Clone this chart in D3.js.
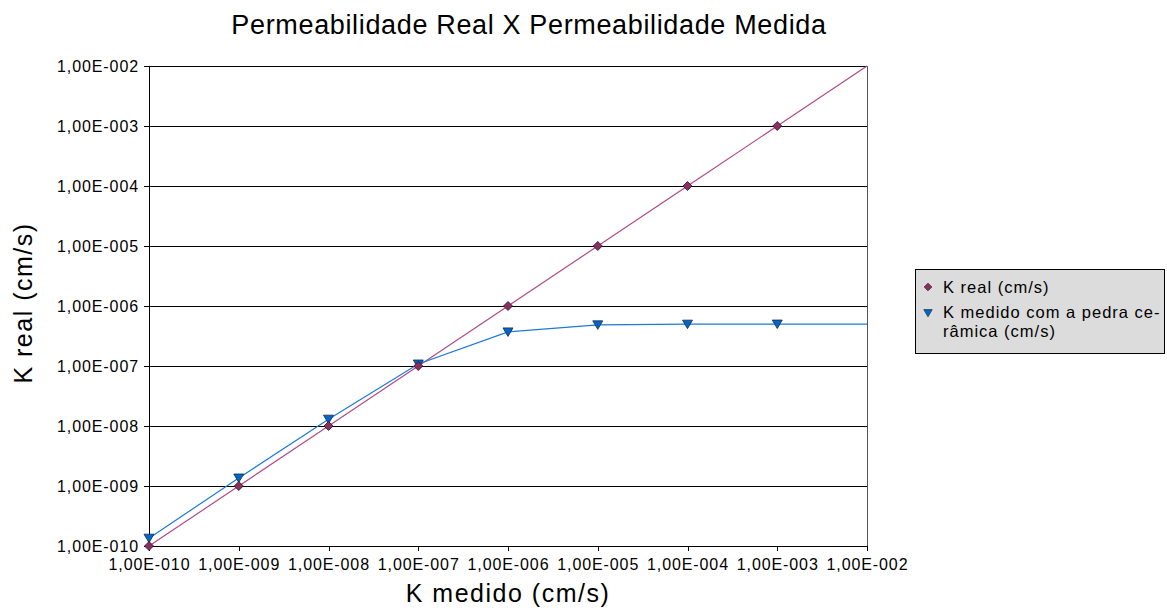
<!DOCTYPE html>
<html>
<head>
<meta charset="utf-8">
<script src="https://cdn.jsdelivr.net/npm/d3@7"></script>
<style>
  html, body { margin: 0; padding: 0; background: #fff; }
  svg { display: block; font-family: "Liberation Sans", Arial, sans-serif; }
</style>
</head>
<body>
<svg id="chart" width="1167" height="612"></svg>
<script>
// Measured permeability (x) for each test
const kMedidoX = [1e-10, 1e-9, 1e-8, 1e-7, 1e-6, 1e-5, 1e-4, 1e-3, 1e-2];
// Real permeability series
const kReal = [1e-10, 1e-9, 1e-8, 1e-7, 1e-6, 1e-5, 1e-4, 1e-3, 1e-2];
// Permeability measured with the ceramic stone
const kPedra = [1.35e-10, 1.36e-9, 1.3e-8, 1.08e-7, 3.7e-7, 4.85e-7, 4.98e-7, 5.0e-7, 5.0e-7];
// Number of points that carry a marker (last point closes the line only)
const markedPoints = 8;
const tickValues = [1e-10, 1e-9, 1e-8, 1e-7, 1e-6, 1e-5, 1e-4, 1e-3, 1e-2];

const FONT = "Liberation Sans, Arial, sans-serif";
const svg = d3.select("#chart");
const plot = { left: 149, right: 867, top: 66, bottom: 546 };

const x = d3.scaleLog().domain([1e-10, 1e-2]).range([plot.left, plot.right]);
const y = d3.scaleLog().domain([1e-10, 1e-2]).range([plot.bottom, plot.top]);

function sciFmt(v) {
  const e = Math.round(Math.log10(v));
  const m = v / Math.pow(10, e);
  const sign = e < 0 ? "-" : "+";
  return m.toFixed(2).replace(".", ",") + "E" + sign + String(Math.abs(e)).padStart(3, "0");
}

// Horizontal gridlines
svg.append("g")
  .selectAll("line")
  .data(tickValues)
  .join("line")
  .attr("x1", plot.left).attr("x2", plot.right)
  .attr("y1", d => y(d)).attr("y2", d => y(d))
  .attr("stroke", "#000").attr("stroke-width", 1)
  .attr("shape-rendering", "crispEdges");

// Right border
svg.append("line")
  .attr("x1", plot.right).attr("x2", plot.right)
  .attr("y1", plot.top).attr("y2", plot.bottom)
  .attr("stroke", "#555").attr("shape-rendering", "crispEdges");

// Axes
const xAxis = d3.axisBottom(x).tickValues(tickValues).tickFormat(sciFmt).tickSizeInner(5).tickSizeOuter(0).tickPadding(8);
const yAxis = d3.axisLeft(y).tickValues(tickValues).tickFormat(sciFmt).tickSizeInner(5).tickSizeOuter(0).tickPadding(5);

const gx = svg.append("g").attr("transform", `translate(0,${plot.bottom})`).call(xAxis);
const gy = svg.append("g").attr("transform", `translate(${plot.left},0)`).call(yAxis);
[gx, gy].forEach(g => {
  g.select(".domain").attr("stroke", "#000").attr("shape-rendering", "crispEdges");
  g.selectAll(".tick line").attr("stroke", "#000").attr("shape-rendering", "crispEdges");
  g.selectAll(".tick text").attr("font-size", 16).attr("letter-spacing", 0.9)
    .attr("fill", "#000").attr("font-family", FONT);
});

// Series lines
const line = d3.line().x(d => x(d[0])).y(d => y(d[1]));
const realPts = kMedidoX.map((v, i) => [v, kReal[i]]);
const pedraPts = kMedidoX.map((v, i) => [v, kPedra[i]]);

svg.append("path").datum(realPts).attr("d", line)
  .attr("fill", "none").attr("stroke", "#b04a88").attr("stroke-width", 1.2);
svg.append("path").datum(pedraPts).attr("d", line)
  .attr("fill", "none").attr("stroke", "#1a7ad8").attr("stroke-width", 1.2);

// Markers
const diamond = "M0,-4.5L4.5,0L0,4.5L-4.5,0Z";
const triangle = "M-5,-4L5,-4L0,4.5Z";

svg.append("g").selectAll("path")
  .data(pedraPts.slice(0, markedPoints))
  .join("path")
  .attr("d", triangle)
  .attr("transform", d => `translate(${x(d[0])},${y(d[1])})`)
  .attr("fill", "#0066cc").attr("stroke", "#1a2a3a").attr("stroke-width", 0.8);

svg.append("g").selectAll("path")
  .data(realPts.slice(0, markedPoints))
  .join("path")
  .attr("d", diamond)
  .attr("transform", d => `translate(${x(d[0])},${y(d[1])})`)
  .attr("fill", "#8b2f62").attr("stroke", "#2a1020").attr("stroke-width", 0.8);

// Title and axis titles
svg.append("text").attr("x", 529).attr("y", 34).attr("text-anchor", "middle")
  .attr("font-size", 27).attr("letter-spacing", 0.65).attr("font-family", FONT)
  .text("Permeabilidade Real X Permeabilidade Medida");
svg.append("text").attr("x", 508).attr("y", 602).attr("text-anchor", "middle")
  .attr("font-size", 25).attr("letter-spacing", 1.5).attr("font-family", FONT)
  .text("K medido (cm/s)");
svg.append("text").attr("transform", "translate(32,303) rotate(-90)").attr("text-anchor", "middle")
  .attr("font-size", 25).attr("letter-spacing", 1.5).attr("font-family", FONT)
  .text("K real (cm/s)");

// Legend
const lg = svg.append("g").attr("font-family", FONT);
lg.append("rect").attr("x", 915.5).attr("y", 269.5).attr("width", 249).attr("height", 84)
  .attr("fill", "#dcdcdc").attr("stroke", "#000");
lg.append("path").attr("d", diamond).attr("transform", "translate(928,287) scale(0.85)")
  .attr("fill", "#8b2f62").attr("stroke", "#2a1020").attr("stroke-width", 0.8);
lg.append("path").attr("d", triangle).attr("transform", "translate(928,313) scale(0.85)")
  .attr("fill", "#0066cc").attr("stroke", "#1a2a3a").attr("stroke-width", 0.8);
const legendLines = [["K real (cm/s)", 293], ["K medido com a pedra ce-", 318], ["râmica (cm/s)", 337]];
lg.selectAll("text.item").data(legendLines).join("text")
  .attr("class", "item")
  .attr("x", 943).attr("y", d => d[1])
  .attr("font-size", 16.5).attr("letter-spacing", 1.0)
  .text(d => d[0]);
</script>
</body>
</html>
